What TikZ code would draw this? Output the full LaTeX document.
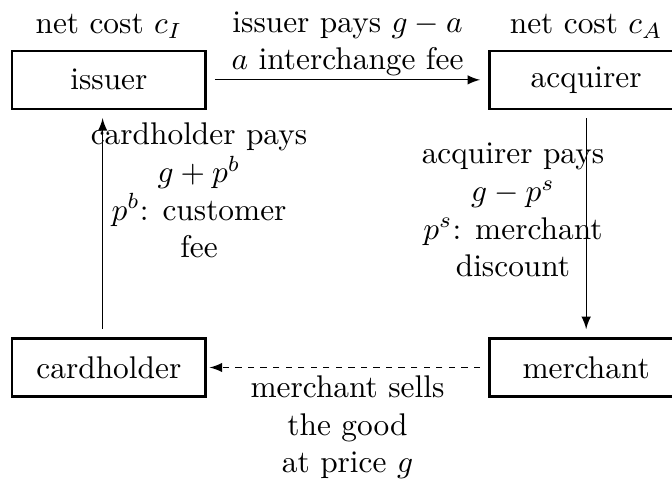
\documentclass[tikz,border=0pt]{standalone}
\usepackage{amsmath,amssymb}
\usepackage{tikz}
\usetikzlibrary{arrows,positioning}

\begin{document}
\begin{tikzpicture}[
    node distance=0.3cm,
    box/.style={rectangle, draw, thick, minimum width=2.17cm, minimum height=0.65cm},
    arrow/.style={->, >=latex, shorten >=0.09cm, shorten <=0.09cm},
    note/.style={align=center, inner sep=1pt}
]
    \useasboundingbox (-1.22,-4.475) rectangle (6.31,0.895);
    \node[box] (issuer) {issuer};
    \node[box, right=3.15cm of issuer] (acquirer) {acquirer};
    \node[box, below=2.545cm of issuer] (cardholder) {cardholder};
    \node[box, below=2.545cm of acquirer] (merchant) {merchant};
    \node[above=0cm of issuer] (costI) {net cost $c_I$};
    \node[above=0cm of acquirer] (costA) {net cost $c_A$};

    \draw[arrow] (issuer) -- node[above, note] (lblIA) {issuer pays $g-a$\\ $a$ interchange fee} (acquirer);
    \draw[arrow] ([xshift=-0.07cm]cardholder.north) -- node[note, xshift=1.08cm, yshift=0.37cm] (lblCI) {cardholder pays\\ $g+p^b$\\ $p^b$: customer\\ fee} ([xshift=-0.07cm]issuer.south);
    \draw[arrow] (acquirer) -- node[note, xshift=-0.82cm, yshift=0.15cm] (lblAM) {acquirer pays\\ $g-p^s$\\ $p^s$: merchant\\ discount} (merchant);
    \draw[arrow, dash pattern=on 2pt off 2pt, shorten >=0.03cm] (merchant) -- node[below, note, yshift=-0.05cm] (lblMC) {merchant sells\\ the good\\ at price $g$} (cardholder);
\end{tikzpicture}
\end{document}
